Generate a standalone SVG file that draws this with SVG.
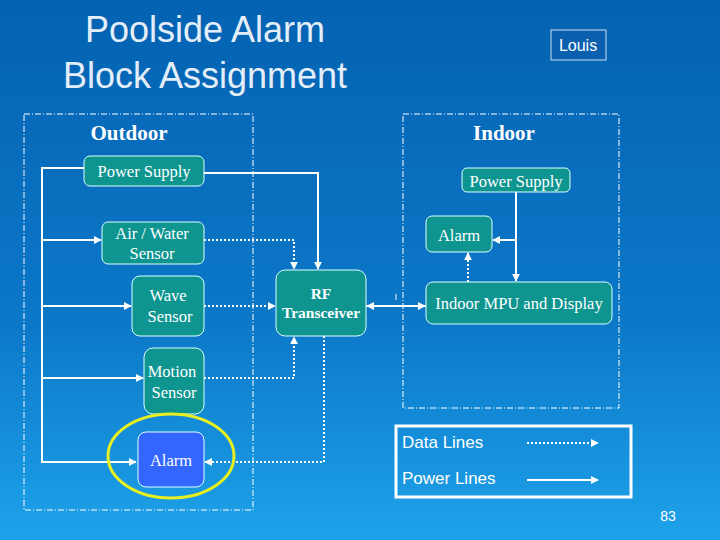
<svg xmlns="http://www.w3.org/2000/svg" width="720" height="540" viewBox="0 0 720 540">
<defs>
<linearGradient id="bg" x1="0" y1="0" x2="0" y2="1">
<stop offset="0" stop-color="#0462b2"/><stop offset="0.6" stop-color="#0c78c8"/><stop offset="1" stop-color="#1ea2ea"/>
</linearGradient>
<marker id="ah" viewBox="0 0 10 10" refX="9" refY="5" markerWidth="4" markerHeight="4" orient="auto"><path d="M0,0L10,5L0,10z" fill="#fff"/></marker>
<style>
.n{fill:#0e9590;stroke:#dff;stroke-width:1}
.t{font-family:"Liberation Serif",serif;font-size:16.5px;fill:#fff;text-anchor:middle}
.tb{font-family:"Liberation Serif",serif;font-size:15.5px;fill:#fff;text-anchor:middle;font-weight:bold}
.p{fill:none;stroke:#fff;stroke-width:2;marker-end:url(#ah)}
.d{fill:none;stroke:#fff;stroke-width:2;stroke-dasharray:2 2;marker-end:url(#ah)}
.zone{fill:none;stroke:#fff;stroke-width:1;stroke-dasharray:6 2 1 2}
</style>
</defs>
<rect width="720" height="540" fill="url(#bg)"/>
<g id="title" font-family="Liberation Sans,sans-serif" font-size="36" fill="#e4eef8" text-anchor="middle">
<text x="205" y="42">Poolside Alarm</text><text x="205" y="88">Block Assignment</text></g>
<g id="louis"><rect x="551" y="30" width="55" height="30" fill="#0a5fae" stroke="#cde"/><text x="578" y="51" font-family="Liberation Sans,sans-serif" font-size="16" fill="#fff" text-anchor="middle">Louis</text></g>
<g id="outdoor"><rect class="zone" x="24" y="114" width="229" height="396"/><text x="129" y="140" font-family="Liberation Serif,serif" font-size="21" font-weight="bold" fill="#fff" text-anchor="middle">Outdoor</text></g>
<g id="indoor"><rect class="zone" x="403" y="114" width="216" height="294"/><text x="504" y="140" font-family="Liberation Serif,serif" font-size="21" font-weight="bold" fill="#fff" text-anchor="middle">Indoor</text></g>
<g id="connectors">
<path class="p" d="M84,168H42V462H136"/>
<path class="p" d="M42,240H101"/>
<path class="p" d="M42,306H131"/>
<path class="p" d="M42,378H143"/>
<path class="p" d="M204,173H318V269"/>
<path class="d" d="M204,240H294V269"/>
<path class="d" d="M204,306H275"/>
<path class="d" d="M204,378H294V337"/>
<path class="d" d="M324,336V462H205"/>
<path class="d" d="M426,306H367"/>
<path class="d" d="M366,306H425"/>
<path class="p" d="M516,192V281"/>
<path class="p" d="M516,240H493"/>
<path class="d" d="M468,282V253"/>
<path d="M396,294V300" stroke="#fff" stroke-width="1"/>
</g>
<g id="ps-out"><rect class="n" x="84" y="156" width="120" height="30" rx="6"/><text class="t" x="144" y="177" font-size="15">Power Supply</text></g>
<g id="airwater"><rect class="n" x="102" y="222" width="102" height="42" rx="6"/><text class="t" x="152" y="239">Air / Water</text><text class="t" x="152" y="259">Sensor</text></g>
<g id="wave"><rect class="n" x="132" y="276" width="72" height="60" rx="8"/><text class="t" x="168" y="301">Wave</text><text class="t" x="170" y="322">Sensor</text></g>
<g id="rf"><rect class="n" x="276" y="270" width="90" height="66" rx="9"/><text class="tb" x="321" y="299">RF</text><text class="tb" x="321" y="318">Transceiver</text></g>
<g id="motion"><rect class="n" x="144" y="348" width="60" height="66" rx="9"/><text class="t" x="172" y="377">Motion</text><text class="t" x="174" y="398">Sensor</text></g>
<g id="alarm-out"><rect x="138" y="432" width="66" height="55" rx="8" fill="#3366ff" stroke="#dff"/><text class="t" x="171" y="466">Alarm</text></g>
<ellipse cx="171" cy="456" rx="63" ry="42" fill="none" stroke="#e8ef20" stroke-width="3"/>
<g id="ps-in"><rect class="n" x="462" y="168" width="108" height="24" rx="5"/><text class="t" x="516" y="187">Power Supply</text></g>
<g id="alarm-in"><rect class="n" x="426" y="216" width="66" height="36" rx="6"/><text class="t" x="459" y="241">Alarm</text></g>
<g id="mpu"><rect class="n" x="426" y="282" width="186" height="42" rx="7"/><text class="t" x="519" y="309">Indoor MPU and Display</text></g>
<g id="legend"><rect x="396" y="426" width="235" height="71" fill="none" stroke="#fff" stroke-width="3"/>
<text x="402" y="448" font-family="Liberation Sans,sans-serif" font-size="17" fill="#fff">Data Lines</text>
<text x="402" y="484" font-family="Liberation Sans,sans-serif" font-size="17" fill="#fff">Power Lines</text>
<path class="d" d="M527,443H598" stroke-width="1.5"/><path class="p" d="M527,480H598" stroke-width="1.5"/></g>
<text x="668" y="521" font-family="Liberation Sans,sans-serif" font-size="14" fill="#fff" text-anchor="middle">83</text>
</svg>
